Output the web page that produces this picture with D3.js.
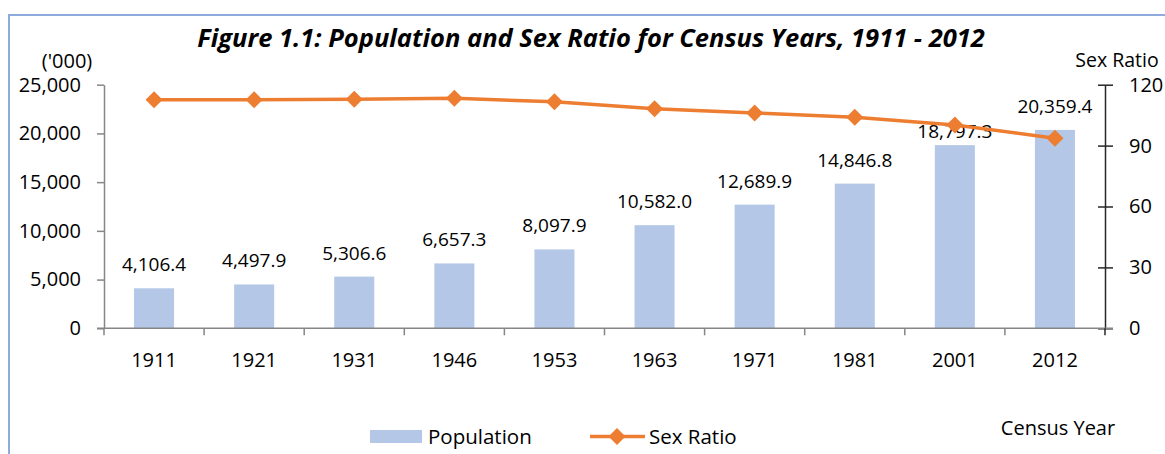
<!DOCTYPE html>
<html>
<head>
<meta charset="utf-8">
<script src="https://cdn.jsdelivr.net/npm/d3@7"></script>
<style>
  body { margin: 0; background: #fff; }
  svg text { font-family: "Open Sans", "Noto Sans", sans-serif; fill: #000; }
</style>
</head>
<body>
<div id="chart"></div>
<script>
// Data
var years = ["1911", "1921", "1931", "1946", "1953", "1963", "1971", "1981", "2001", "2012"];
var population = [4106.4, 4497.9, 5306.6, 6657.3, 8097.9, 10582.0, 12689.9, 14846.8, 18797.3, 20359.4];
var sexRatio = [112.6, 112.6, 112.8, 113.3, 111.6, 108.2, 106.1, 104.0, 100.2, 93.6];
var popTicks = [0, 5000, 10000, 15000, 20000, 25000];
var ratioTicks = [0, 30, 60, 90, 120];

var svgWidth = 1165;
var svgHeight = 454;

var svg = d3.select("#chart")
  .append("svg")
  .attr("width", svgWidth)
  .attr("height", svgHeight);

// light blue frame (top + left edges visible)
svg.append("path")
  .attr("d", "M9,454 L9,15 L1165,15")
  .attr("fill", "none")
  .attr("stroke", "#8faadc")
  .attr("stroke-width", 2);

var plot = { left: 104, right: 1105, top: 84.7, bottom: 328.3 };

var x = d3.scaleBand()
  .domain(years)
  .range([plot.left, plot.right])
  .paddingInner(0.6)
  .paddingOuter(0.3);

var yPop = d3.scaleLinear()
  .domain([0, 25000])
  .range([plot.bottom, plot.top]);

var yRatio = d3.scaleLinear()
  .domain([0, 120])
  .range([plot.bottom, plot.top]);

// Bars
svg.append("g")
  .selectAll("rect")
  .data(population)
  .enter()
  .append("rect")
  .attr("x", (d, i) => x(years[i]))
  .attr("y", d => yPop(d))
  .attr("width", x.bandwidth())
  .attr("height", d => yPop(0) - yPop(d))
  .attr("fill", "#b4c7e7");

// Bar labels (2001 label sits closer to its bar in the original)
var fmt = d3.format(",.1f");
svg.append("g")
  .selectAll("text")
  .data(population)
  .enter()
  .append("text")
  .attr("x", (d, i) => x(years[i]) + x.bandwidth() / 2)
  .attr("y", (d, i) => yPop(d) - (years[i] === "2001" ? 7 : 17))
  .attr("text-anchor", "middle")
  .style("font-size", "19px")
  .text(d => fmt(d));

// Left axis
var leftAxis = d3.axisLeft(yPop)
  .tickValues(popTicks)
  .tickFormat(d3.format(","))
  .tickSize(7)
  .tickSizeOuter(0)
  .tickPadding(16);

var gLeft = svg.append("g")
  .attr("transform", `translate(${plot.left},0)`)
  .call(leftAxis);
gLeft.select(".domain").attr("stroke", "#868686").attr("stroke-width", 1.5);
gLeft.selectAll(".tick line").attr("stroke", "#868686").attr("stroke-width", 1.5);
gLeft.selectAll("text").style("font-size", "20px").attr("fill", "#000").attr("font-family", null);

// Right axis
var rightAxis = d3.axisRight(yRatio)
  .tickValues(ratioTicks)
  .tickSize(8)
  .tickSizeOuter(0)
  .tickPadding(16);

var gRight = svg.append("g")
  .attr("transform", `translate(${plot.right},0)`)
  .call(rightAxis);
gRight.select(".domain").attr("stroke", "#262626").attr("stroke-width", 1.5);
gRight.selectAll(".tick line").attr("x1", -7).attr("stroke", "#262626").attr("stroke-width", 1.5);
gRight.selectAll("text").style("font-size", "20px").attr("fill", "#000").attr("font-family", null);

// Bottom axis: labels at centres, ticks on category boundaries
var bottomAxis = d3.axisBottom(x).tickSize(0).tickSizeOuter(0);
var gBottom = svg.append("g")
  .attr("transform", `translate(0,${plot.bottom})`)
  .call(bottomAxis);
gBottom.select(".domain").remove();
gBottom.selectAll("text")
  .attr("y", 39)
  .attr("dy", 0)
  .style("font-size", "20px")
  .attr("fill", "#000")
  .attr("font-family", null);

gBottom.append("line")
  .attr("x1", plot.left - 7)
  .attr("x2", plot.right + 8)
  .attr("stroke", "#868686")
  .attr("stroke-width", 1.5);

gBottom.selectAll(".bound")
  .data(d3.range(years.length + 1))
  .enter()
  .append("line")
  .attr("class", "bound")
  .attr("x1", i => plot.left + i * x.step())
  .attr("x2", i => plot.left + i * x.step())
  .attr("y1", 0)
  .attr("y2", 7)
  .attr("stroke", (d, i) => i === years.length ? "#262626" : "#868686")
  .attr("stroke-width", 1.5);

// Sex ratio line
var line = d3.line()
  .x((d, i) => x(years[i]) + x.bandwidth() / 2)
  .y(d => yRatio(d));

svg.append("path")
  .datum(sexRatio)
  .attr("d", line)
  .attr("fill", "none")
  .attr("stroke", "#ed7d31")
  .attr("stroke-width", 3.5)
  .attr("stroke-linejoin", "round");

var diamond = "M0,-8.5L8.5,0L0,8.5L-8.5,0Z";
svg.append("g")
  .selectAll("path")
  .data(sexRatio)
  .enter()
  .append("path")
  .attr("d", diamond)
  .attr("transform", (d, i) => `translate(${x(years[i]) + x.bandwidth() / 2},${yRatio(d)})`)
  .attr("fill", "#ed7d31");

// Title
var title = svg.append("text")
  .attr("x", 591)
  .attr("y", 47)
  .attr("text-anchor", "middle")
  .style("font-size", "24px")
  .style("font-weight", "bold")
  .style("font-style", "italic")
  .text("Figure 1.1: Population and Sex Ratio for Census Years, 1911 - 2012");
var tw = title.node().getComputedTextLength();
title.style("font-size", (24 * 788 / tw).toFixed(2) + "px");

// Axis unit labels
svg.append("text")
  .attr("x", 67)
  .attr("y", 68)
  .attr("text-anchor", "middle")
  .style("font-size", "20px")
  .text("('000)");

svg.append("text")
  .attr("x", 1117)
  .attr("y", 67)
  .attr("text-anchor", "middle")
  .style("font-size", "19.5px")
  .text("Sex Ratio");

svg.append("text")
  .attr("x", 1058)
  .attr("y", 435)
  .attr("text-anchor", "middle")
  .style("font-size", "20px")
  .text("Census Year");

// Legend
var legend = svg.append("g");
legend.append("rect")
  .attr("x", 370)
  .attr("y", 430)
  .attr("width", 52)
  .attr("height", 13)
  .attr("fill", "#b4c7e7");
legend.append("text")
  .attr("x", 428)
  .attr("y", 444)
  .style("font-size", "20.5px")
  .text("Population");
legend.append("line")
  .attr("x1", 590)
  .attr("x2", 645)
  .attr("y1", 436.5)
  .attr("y2", 436.5)
  .attr("stroke", "#ed7d31")
  .attr("stroke-width", 3.5);
legend.append("path")
  .attr("d", diamond)
  .attr("transform", "translate(617,436.5)")
  .attr("fill", "#ed7d31");
legend.append("text")
  .attr("x", 649)
  .attr("y", 444)
  .style("font-size", "20.5px")
  .text("Sex Ratio");
</script>
</body>
</html>
